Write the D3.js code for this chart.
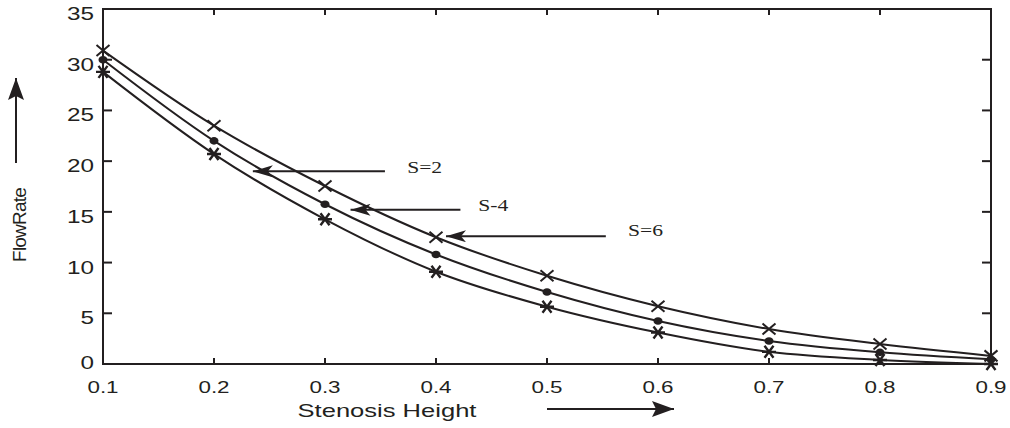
<!DOCTYPE html>
<html>
<head>
<meta charset="utf-8">
<script src="https://cdn.jsdelivr.net/npm/d3@7"></script>
<style>
  body { margin: 0; background: #fff; }
  text { fill: #231f20; }
</style>
</head>
<body>
<script>
// stenosis height values (x)
var heights = [0.1, 0.2, 0.3, 0.4, 0.5, 0.6, 0.7, 0.8, 0.9];
// flow rate for each S value
var flowS2 = [30.9, 23.5, 17.55, 12.5, 8.7, 5.7, 3.45, 1.97, 0.8];
var flowS4 = [30.0, 22.0, 15.75, 10.8, 7.1, 4.24, 2.27, 1.15, 0.46];
var flowS6 = [28.8, 20.7, 14.27, 9.1, 5.65, 3.1, 1.2, 0.4, 0.0];
var xTicks = [0.1, 0.2, 0.3, 0.4, 0.5, 0.6, 0.7, 0.8, 0.9];
var yTicks = [0, 5, 10, 15, 20, 25, 30, 35];
// annotation arrows: label, tip x, tail x, y, text x, text y (data units)
var notes = [
  {label: "S=2", tip: 0.235, tail: 0.354, y: 19.0, tx: 0.374, ty: 19.4},
  {label: "S-4", tip: 0.323, tail: 0.422, y: 15.2, tx: 0.438, ty: 15.6},
  {label: "S=6", tip: 0.409, tail: 0.553, y: 12.6, tx: 0.573, ty: 13.2}
];

var W = 1010, H = 428;
var pLeft = 103, pRight = 991, pTop = 9, pBottom = 364;

var x = d3.scaleLinear().domain([0.1, 0.9]).range([pLeft, pRight]);
var y = d3.scaleLinear().domain([0, 35]).range([pBottom, pTop]);

var svg = d3.select("body").append("svg")
    .attr("width", W)
    .attr("height", H);

var ink = "#231f20";
var sans = "'Liberation Sans', Arial, sans-serif";

// frame
svg.append("rect")
    .attr("x", pLeft).attr("y", pTop)
    .attr("width", pRight - pLeft).attr("height", pBottom - pTop)
    .attr("fill", "none").attr("stroke", ink).attr("stroke-width", 2);

// inward ticks on all four sides
var tk = svg.append("g").attr("stroke", ink).attr("stroke-width", 2);
xTicks.slice(1, -1).forEach(function(t) {
  tk.append("line").attr("x1", x(t)).attr("x2", x(t)).attr("y1", pBottom).attr("y2", pBottom - 6);
  tk.append("line").attr("x1", x(t)).attr("x2", x(t)).attr("y1", pTop).attr("y2", pTop + 6);
});
yTicks.slice(1, -1).forEach(function(t) {
  tk.append("line").attr("x1", pLeft).attr("x2", pLeft + 9).attr("y1", y(t)).attr("y2", y(t));
  tk.append("line").attr("x1", pRight).attr("x2", pRight - 9).attr("y1", y(t)).attr("y2", y(t));
});

// tick labels (wide sans digits)
svg.append("g").selectAll("text")
    .data(xTicks).enter().append("text")
    .attr("transform", function(d) { return "translate(" + x(d) + "," + (pBottom + 29) + ") scale(1.4,1)"; })
    .attr("text-anchor", "middle")
    .style("font-family", sans)
    .style("font-size", "16px")
    .text(function(d) { return d3.format(".1f")(d); });

svg.append("g").selectAll("text")
    .data(yTicks).enter().append("text")
    .attr("transform", function(d) { return "translate(94," + (y(d) + (d === 0 ? 5 : 11)) + ") scale(1.35,1)"; })
    .attr("text-anchor", "end")
    .style("font-family", sans)
    .style("font-size", "18px")
    .text(function(d) { return d; });

// curves
var series = [
  {name: "S=2", values: flowS2, marker: "times"},
  {name: "S=4", values: flowS4, marker: "dot"},
  {name: "S=6", values: flowS6, marker: "star"}
];

var line = d3.line()
    .x(function(d) { return x(d[0]); })
    .y(function(d) { return y(d[1]); })
    .curve(d3.curveMonotoneX);

series.forEach(function(s) {
  var pts = heights.map(function(h, i) { return [h, s.values[i]]; });
  svg.append("path")
      .attr("d", line(pts))
      .attr("fill", "none")
      .attr("stroke", ink)
      .attr("stroke-width", 2);

  var g = svg.append("g");
  pts.forEach(function(p) {
    var cx = x(p[0]), cy = y(p[1]);
    if (s.marker === "dot") {
      g.append("ellipse").attr("cx", cx).attr("cy", cy).attr("rx", 4.5).attr("ry", 3.8).attr("fill", ink);
    } else if (s.marker === "times") {
      g.append("path")
          .attr("d", "M" + (cx - 6.5) + "," + (cy - 5.5) + "L" + (cx + 6.5) + "," + (cy + 5.5) +
                     "M" + (cx - 6.5) + "," + (cy + 5.5) + "L" + (cx + 6.5) + "," + (cy - 5.5))
          .attr("stroke", ink).attr("stroke-width", 2);
    } else {
      g.append("path")
          .attr("d", "M" + (cx - 4.5) + "," + (cy - 6) + "L" + (cx + 4.5) + "," + (cy + 6) +
                     "M" + (cx - 4.5) + "," + (cy + 6) + "L" + (cx + 4.5) + "," + (cy - 6) +
                     "M" + (cx - 7) + "," + cy + "L" + (cx + 7) + "," + cy)
          .attr("stroke", ink).attr("stroke-width", 2.4);
    }
  });
});

// arrowheads
var defs = svg.append("defs");
defs.append("marker")
    .attr("id", "head")
    .attr("viewBox", "0 0 20 12")
    .attr("refX", 0).attr("refY", 6)
    .attr("markerWidth", 20).attr("markerHeight", 12)
    .attr("markerUnits", "userSpaceOnUse")
    .attr("orient", "auto")
    .append("path")
    .attr("d", "M0,6L20,0L15,6L20,12Z")
    .attr("fill", ink);

defs.append("marker")
    .attr("id", "headEnd")
    .attr("viewBox", "0 0 22 16")
    .attr("refX", 22).attr("refY", 8)
    .attr("markerWidth", 22).attr("markerHeight", 16)
    .attr("markerUnits", "userSpaceOnUse")
    .attr("orient", "auto")
    .append("path")
    .attr("d", "M0,0L22,8L0,16L4,8Z")
    .attr("fill", ink);

// S annotations
notes.forEach(function(n) {
  svg.append("line")
      .attr("x1", x(n.tip)).attr("y1", y(n.y))
      .attr("x2", x(n.tail)).attr("y2", y(n.y))
      .attr("stroke", ink).attr("stroke-width", 2)
      .attr("marker-start", "url(#head)");
  svg.append("text")
      .attr("transform", "translate(" + x(n.tx) + "," + y(n.ty) + ") scale(1.35,1)")
      .attr("dy", "0.35em")
      .style("font-family", "'Liberation Serif', 'DejaVu Serif', 'Times New Roman', serif")
      .style("font-size", "16px")
      .text(n.label);
});

// axis titles with direction arrows
svg.append("text")
    .attr("transform", "translate(387,417) scale(1.42,1)")
    .attr("text-anchor", "middle")
    .style("font-family", sans)
    .style("font-size", "18px")
    .text("Stenosis Height");

svg.append("line")
    .attr("x1", 547).attr("y1", 409).attr("x2", 674).attr("y2", 409)
    .attr("stroke", ink).attr("stroke-width", 2)
    .attr("marker-end", "url(#headEnd)");

svg.append("text")
    .attr("transform", "translate(26,225) rotate(-90)")
    .attr("text-anchor", "middle")
    .style("font-family", sans)
    .style("font-size", "19px")
    .style("letter-spacing", "-0.8px")
    .text("FlowRate");

svg.append("line")
    .attr("x1", 16).attr("y1", 163).attr("x2", 16).attr("y2", 78)
    .attr("stroke", ink).attr("stroke-width", 2)
    .attr("marker-end", "url(#headEnd)");
</script>
</body>
</html>
